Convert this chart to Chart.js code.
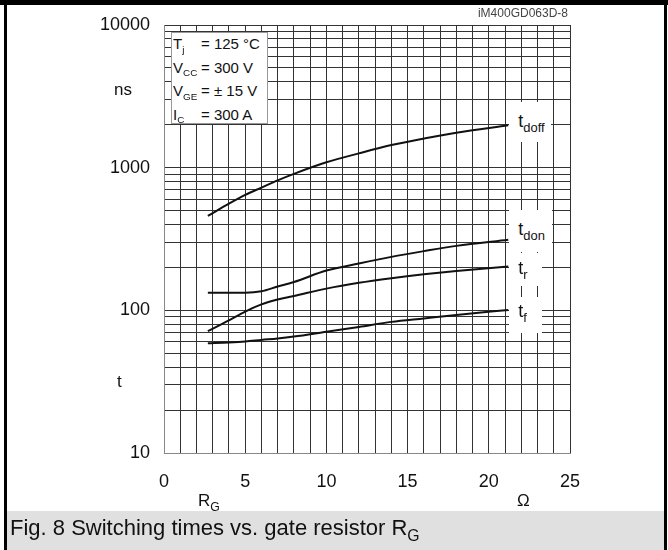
<!DOCTYPE html>
<html>
<head>
<meta charset="utf-8">
<script src="https://cdn.jsdelivr.net/npm/chart.js@4.4.1/dist/chart.umd.min.js"></script>
<style>
  body { margin: 0; background: #fff; }
  #wrap { position: relative; width: 668px; height: 550px; overflow: hidden;
          font-family: "Liberation Sans", Arial, sans-serif; color: #111; }
  #chart { position: absolute; left: 0; top: 0; }
  .abs { position: absolute; white-space: nowrap; }
  sub { font-size: 0.72em; vertical-align: baseline; position: relative; top: 0.38em; }
  .frame { position: absolute; background: #000; }
  #caption { position: absolute; left: 7px; top: 511px; width: 657px; height: 39px; background: #e0e0e0; }
  #caption span { position: absolute; left: 3px; top: 6px; font-size: 22px; line-height: 22px; }
  #info { position: absolute; left: 171px; top: 32px; width: 95px; height: 90px;
          background: #fff; border: 1px solid #999; font-size: 15px; line-height: 21.5px; }
  #info div { padding-left: 1px; }
  #info .lb { display: inline-block; width: 28px; }
  #info sub { font-size: 0.66em; }
  .lab { position: absolute; background: #fff; }
  .lab span { position: absolute; font-size: 18px; line-height: 18px; }
  .ax { font-size: 17px; line-height: 17px; }
</style>
</head>
<body>
<div id="wrap">
  <canvas id="chart" width="668" height="550"></canvas>
  <div class="frame" style="left:0;top:0;width:668px;height:5px"></div>
  <div class="frame" style="left:4px;top:0;width:3px;height:550px"></div>
  <div class="frame" style="left:664px;top:0;width:3px;height:550px"></div>
  <div class="abs" style="right:100px;top:7px;font-size:12px;line-height:12px;color:#444">iM400GD063D-8</div>
  <div id="info">
    <div><span class="lb">T<sub>j</sub></span>= 125 °C</div>
    <div><span class="lb">V<sub>CC</sub></span>= 300 V</div>
    <div><span class="lb">V<sub>GE</sub></span>= ± 15 V</div>
    <div><span class="lb">I<sub>C</sub></span>= 300 A</div>
  </div>
  <div class="abs ax" style="left:114px;top:81px">ns</div>
  <div class="abs ax" style="left:117px;top:373px">t</div>
  <div class="abs ax" style="left:198px;top:492px">R<sub>G</sub></div>
  <div class="abs ax" style="left:517px;top:492px">Ω</div>
  <div id="caption"><span>Fig. 8 Switching times vs. gate resistor R<sub>G</sub></span></div>
</div>
<script>
// gate resistor (ohm) and switching times (ns)
const rG    = [2.7, 4, 5, 6, 7, 8, 10, 12, 14, 16, 18, 21.2];
const tDoff = [459, 560, 645, 725, 815, 905, 1090, 1260, 1440, 1600, 1760, 1980];
const tDon  = [133, 133, 133, 136, 147, 158, 190, 213, 237, 260, 283, 313];
const tR    = [71.5, 85, 98, 110, 119, 126, 142, 156, 168, 179, 189, 203];
const tF    = [58.8, 59.5, 60.4, 62, 63.5, 65.5, 70.8, 76.5, 83, 87.8, 92.8, 100.7];
const seriesNames = ['doff', 'don', 'r', 'f'];
const xTickLabels = [0, 5, 10, 15, 20, 25];
const yTickLabels = [10, 100, 1000, 10000];

const family = '"Liberation Sans", Arial, sans-serif';

// grid: every ohm, log minors 1..9 per decade
const xGrid = [];
for (let i = 0; i <= 25; i++) xGrid.push(i);
const yGrid = [];
[10, 100, 1000].forEach(d => { for (let m = 1; m < 10; m++) yGrid.push(m * d); });
yGrid.push(10000);

const seriesValues = [tDoff, tDon, tR, tF];

const chart = new Chart(document.getElementById('chart'), {
  type: 'line',
  data: {
    datasets: seriesNames.map((name, k) => ({
      label: 't' + name,
      data: rG.map((r, i) => ({ x: r, y: seriesValues[k][i] })),
      borderColor: '#111',
      borderWidth: 2,
      pointRadius: 0,
      fill: false,
      cubicInterpolationMode: 'monotone'
    }))
  },
  options: {
    responsive: false,
    animation: false,
    devicePixelRatio: 1,
    layout: { padding: { left: 0, top: 25, right: 98, bottom: 57 } },
    plugins: { legend: { display: false }, tooltip: { enabled: false } },
    scales: {
      x: {
        type: 'linear', min: 0, max: 25,
        afterBuildTicks: s => { s.ticks = xGrid.map(v => ({ value: v })); },
        afterFit: s => { s.height = 40; },
        ticks: {
          autoSkip: false, maxRotation: 0, padding: 18, color: '#111',
          font: { family, size: 18 },
          callback: v => xTickLabels.includes(v) ? String(v) : ''
        },
        grid: { color: '#333', lineWidth: 1, drawTicks: false },
        border: { color: '#888', width: 1 }
      },
      y: {
        type: 'logarithmic', min: 10, max: 10000,
        afterBuildTicks: s => { s.ticks = yGrid.map(v => ({ value: v })); },
        afterFit: s => { s.width = 164; },
        ticks: {
          autoSkip: false, padding: 14, color: '#111',
          font: { family, size: 18 },
          callback: v => yTickLabels.includes(v) ? String(v) : ''
        },
        grid: { color: '#333', lineWidth: 1, drawTicks: false },
        border: { color: '#888', width: 1 }
      }
    }
  }
});

// curve labels with white boxes that blank the grid behind them
const labelPlace = {
  doff: { boxTop: -23, boxH: 40, boxW: 42, tCenter: -4.5 },
  don:  { boxTop: -30, boxH: 42, boxW: 43, tCenter: -10.5 },
  r:    { boxTop: -13, boxH: 33, boxW: 33, tCenter: 2 },
  f:    { boxTop: -13, boxH: 36, boxW: 33, tCenter: 1 }
};
const xs = chart.scales.x, ys = chart.scales.y;
const wrap = document.getElementById('wrap');
seriesNames.forEach((name, k) => {
  const vals = seriesValues[k];
  const xe = xs.getPixelForValue(rG[rG.length - 1]);
  const ye = ys.getPixelForValue(vals[vals.length - 1]);
  const p = labelPlace[name];
  const box = document.createElement('div');
  box.className = 'lab';
  box.style.left = (xe + 1) + 'px';
  box.style.top = (ye + p.boxTop) + 'px';
  box.style.width = p.boxW + 'px';
  box.style.height = p.boxH + 'px';
  const txt = document.createElement('span');
  txt.innerHTML = 't<sub>' + name + '</sub>';
  txt.style.left = '9px';
  txt.style.top = (p.tCenter - p.boxTop - 9) + 'px';
  box.appendChild(txt);
  wrap.appendChild(box);
});
</script>
</body>
</html>
